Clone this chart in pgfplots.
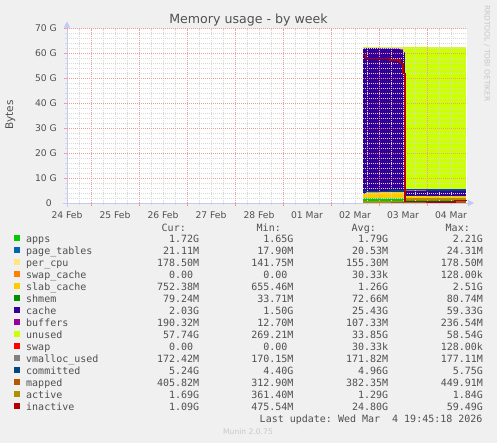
\documentclass[border=0pt]{standalone}
\usepackage{fontspec}
\setmainfont{DejaVu Sans}
\setmonofont{DejaVu Sans Mono}
\usepackage{pgfplots}
\pgfplotsset{compat=1.18}
\usepackage{pgfplotstable}
\usetikzlibrary{arrows.meta}

\definecolor{bg}{HTML}{F0F0F0}
\definecolor{txt}{HTML}{505050}
\definecolor{faint}{HTML}{C8C8C8}
\definecolor{axisblue}{HTML}{C4C8F4}
\definecolor{mgrid}{HTML}{EE9C9C}
\definecolor{grd}{HTML}{D8D8D8}
\definecolor{cApps}{HTML}{00CC00}
\definecolor{cPageTables}{HTML}{0066B3}
\definecolor{cPerCpu}{HTML}{FFE680}
\definecolor{cSwapCache}{HTML}{FF8000}
\definecolor{cSlab}{HTML}{FFCC00}
\definecolor{cShmem}{HTML}{008F00}
\definecolor{cCache}{HTML}{330099}
\definecolor{cBuffers}{HTML}{990099}
\definecolor{cUnused}{HTML}{CCFF00}
\definecolor{cSwap}{HTML}{FF0000}
\definecolor{cVmalloc}{HTML}{808080}
\definecolor{cCommitted}{HTML}{00487D}
\definecolor{cMapped}{HTML}{B35A00}
\definecolor{cActive}{HTML}{B38F00}
\definecolor{cInactive}{HTML}{B30000}

% t = days since 24 Feb 00:00, values in GB
\pgfplotstableread{
t    apps pagetables percpu swapcache slab shmem cache buffers unused swap vmalloc committed mapped active inactive
6.67 1.90 0.020 0.140 0 1.60 0.070 58.30 0.050 0.42  0 0.172 4.55 0.36 0.45 59.1
6.73 1.90 0.020 0.140 0 2.10 0.075 57.85 0.060 0.30  0 0.172 4.60 0.37 0.45 58.0
7.00 1.85 0.020 0.145 0 2.30 0.075 57.65 0.080 0.35  0 0.172 4.70 0.38 0.50 58.0
7.23 1.80 0.020 0.150 0 2.45 0.075 57.35 0.150 0.45  0 0.172 4.75 0.40 0.55 57.4
7.27 1.80 0.020 0.150 0 2.45 0.075 57.30 0.236 0.42  0 0.172 4.80 0.40 0.55 57.4
7.44 1.80 0.020 0.150 0 2.45 0.075 56.95 0.200 0.80  0 0.172 4.85 0.41 0.60 56.0
7.50 1.80 0.020 0.150 0 2.40 0.075 55.85 0.200 1.95  0 0.172 4.90 0.41 0.60 52.0
7.54 1.75 0.020 0.170 0 0.80 0.080 2.10  0.190 57.39 0 0.175 5.40 0.40 1.70 0.55
8.00 1.70 0.021 0.175 0 0.75 0.080 2.00  0.190 57.54 0 0.172 5.20 0.39 1.68 0.50
8.50 1.70 0.021 0.178 0 0.75 0.080 2.02  0.190 57.51 0 0.172 5.20 0.40 1.70 0.50
8.58 1.72 0.021 0.178 0 0.75 0.079 2.03  0.190 57.48 0 0.172 5.24 0.41 1.69 1.05
8.81 1.72 0.021 0.178 0 0.75 0.079 2.03  0.190 57.48 0 0.172 5.24 0.41 1.69 1.09
}\memdata

\newcommand{\lrow}[5]{\makebox[80bp][l]{#1}\makebox[93bp][r]{#2}\makebox[94.3bp][r]{#3}\makebox[94.7bp][r]{#4}\makebox[94.7bp][r]{#5}}
\newcommand{\monofont}{\ttfamily\fontsize{10bp}{12bp}\selectfont}

\begin{document}
\begin{tikzpicture}
\fill[bg] (0,0) rectangle (497bp,-443bp);
\fill[white] (67bp,-28.5bp) rectangle (467bp,-203bp);

% stacked areas + legend
\begin{axis}[
    at={(67bp,-203bp)}, anchor=south west,
    scale only axis, width=400bp, height=174.5bp,
    xmin=0.5, xmax=8.8333, ymin=0, ymax=70,
    axis lines=none,
    stack plots=y,
    legend cell align=left,
    legend style={at={(-0.1325,-0.1777)}, anchor=north west, draw=none, fill=none,
        inner sep=0pt, row sep=0pt, column sep=0pt, font={\monofont}, text=txt,
        nodes={inner sep=0pt, text height=8.5bp, text depth=3.5bp}},
    legend image code/.code={\fill (0bp,-0.3bp) rectangle (5.5bp,5.2bp); \path[fill=none, draw=none] (0bp,0bp) rectangle (12bp,1bp);},
]
\addplot[fill=cApps, draw=none, const plot, forget plot] table[x=t, y=apps] {\memdata} \closedcycle;
\addplot[fill=cPageTables, draw=none, const plot, forget plot] table[x=t, y=pagetables] {\memdata} \closedcycle;
\addplot[fill=cPerCpu, draw=none, const plot, forget plot] table[x=t, y=percpu] {\memdata} \closedcycle;
\addplot[fill=cSwapCache, draw=none, const plot, forget plot] table[x=t, y=swapcache] {\memdata} \closedcycle;
\addplot[fill=cSlab, draw=none, const plot, forget plot] table[x=t, y=slab] {\memdata} \closedcycle;
\addplot[fill=cShmem, draw=none, const plot, forget plot] table[x=t, y=shmem] {\memdata} \closedcycle;
\addplot[fill=cCache, draw=none, const plot, forget plot] table[x=t, y=cache] {\memdata} \closedcycle;
\addplot[fill=cBuffers, draw=none, const plot, forget plot] table[x=t, y=buffers] {\memdata} \closedcycle;
\addplot[fill=cUnused, draw=none, const plot, forget plot] table[x=t, y=unused] {\memdata} \closedcycle;
\addplot[fill=cSwap, draw=none, const plot, forget plot] table[x=t, y=swap] {\memdata} \closedcycle;

\addlegendimage{fill=cApps, draw=none}\addlegendentry{\lrow{apps}{1.72G}{1.65G}{1.79G}{2.21G}}
\addlegendimage{fill=cPageTables, draw=none}\addlegendentry{\lrow{page\_tables}{21.11M}{17.90M}{20.53M}{24.31M}}
\addlegendimage{fill=cPerCpu, draw=none}\addlegendentry{\lrow{per\_cpu}{178.50M}{141.75M}{155.30M}{178.50M}}
\addlegendimage{fill=cSwapCache, draw=none}\addlegendentry{\lrow{swap\_cache}{0.00\ }{0.00\ }{30.33k}{128.00k}}
\addlegendimage{fill=cSlab, draw=none}\addlegendentry{\lrow{slab\_cache}{752.38M}{655.46M}{1.26G}{2.51G}}
\addlegendimage{fill=cShmem, draw=none}\addlegendentry{\lrow{shmem}{79.24M}{33.71M}{72.66M}{80.74M}}
\addlegendimage{fill=cCache, draw=none}\addlegendentry{\lrow{cache}{2.03G}{1.50G}{25.43G}{59.33G}}
\addlegendimage{fill=cBuffers, draw=none}\addlegendentry{\lrow{buffers}{190.32M}{12.70M}{107.33M}{236.54M}}
\addlegendimage{fill=cUnused, draw=none}\addlegendentry{\lrow{unused}{57.74G}{269.21M}{33.85G}{58.54G}}
\addlegendimage{fill=cSwap, draw=none}\addlegendentry{\lrow{swap}{0.00\ }{0.00\ }{30.33k}{128.00k}}
\addlegendimage{fill=cVmalloc, draw=none}\addlegendentry{\lrow{vmalloc\_used}{172.42M}{170.15M}{171.82M}{177.11M}}
\addlegendimage{fill=cCommitted, draw=none}\addlegendentry{\lrow{committed}{5.24G}{4.40G}{4.96G}{5.75G}}
\addlegendimage{fill=cMapped, draw=none}\addlegendentry{\lrow{mapped}{405.82M}{312.90M}{382.35M}{449.91M}}
\addlegendimage{fill=cActive, draw=none}\addlegendentry{\lrow{active}{1.69G}{361.40M}{1.29G}{1.84G}}
\addlegendimage{fill=cInactive, draw=none}\addlegendentry{\lrow{inactive}{1.09G}{475.54M}{24.80G}{59.49G}}
\end{axis}

% grid, axes and lines on top
\begin{axis}[
    at={(67bp,-203bp)}, anchor=south west,
    scale only axis, width=400bp, height=174.5bp,
    xmin=0.5, xmax=8.8333, ymin=0, ymax=70,
    axis lines*=left,
    axis line style={draw=axisblue, line width=1bp},
    x axis line style={-{Triangle[length=6bp,width=6bp]}, shorten >=-7bp, shorten <=-4bp},
    y axis line style={-{Triangle[length=6bp,width=6bp]}, shorten >=-7bp, shorten <=-4bp},
    xtick={0.5,1.5,...,8.5},
    xticklabels={24 Feb,25 Feb,26 Feb,27 Feb,28 Feb,01 Mar,02 Mar,03 Mar,04 Mar},
    minor x tick num=3,
    ytick={0,10,...,70},
    yticklabels={0\hspace*{5bp},10 G,20 G,30 G,40 G,50 G,60 G,70 G},
    minor y tick num=4,
    grid=both,
    grid style={grd, dash pattern=on 1bp off 1bp, line width=0.7bp},
    extra x ticks={1,2,...,8}, extra x tick labels={},
    extra x tick style={grid=major, major grid style={mgrid, dash pattern=on 1bp off 1bp, line width=0.8bp},
        tick style={mgrid, line width=1bp}, major tick length=3bp},
    extra y ticks={10,20,...,70}, extra y tick labels={},
    extra y tick style={grid=major, major grid style={mgrid, dash pattern=on 1bp off 1bp, line width=0.8bp},
        tick style={mgrid, line width=1bp}, major tick length=3bp},
    tick align=outside, major tick length=2bp, minor tick length=2bp,
    tick style={grd, line width=0.8bp},
    tick label style={font=\fontsize{9.2bp}{11bp}\selectfont, text=txt, inner sep=0pt},
    xticklabel style={anchor=base, yshift=-13bp},
    yticklabel style={anchor=east, xshift=-8bp},
]
\addplot[cVmalloc, line width=1.5bp, const plot] table[x=t, y=vmalloc] {\memdata};
\addplot[cCommitted, line width=1.5bp, const plot] table[x=t, y=committed] {\memdata};
\addplot[cMapped, line width=1.5bp, const plot] table[x=t, y=mapped] {\memdata};
\addplot[cActive, line width=1.5bp, const plot] table[x=t, y=active] {\memdata};
\addplot[cInactive, line width=1.5bp, const plot] table[x=t, y=inactive] {\memdata};
\end{axis}

\node[anchor=base, font=\fontsize{12.6bp}{15bp}\selectfont, text=txt] at (248.5bp,-23.7bp) {Memory usage - by week};
\node[rotate=90, font=\fontsize{10.5bp}{12bp}\selectfont, text=txt] at (10.5bp,-115bp) {Bytes};
\node[rotate=-90, font=\fontsize{7.5bp}{9bp}\selectfont, text=faint] at (487bp,-53.5bp) {RRDTOOL / TOBI OETIKER};

\node[anchor=base east, font=\monofont, text=txt, inner sep=0pt] at (186bp,-231bp) {Cur:};
\node[anchor=base east, font=\monofont, text=txt, inner sep=0pt] at (281bp,-231bp) {Min:};
\node[anchor=base east, font=\monofont, text=txt, inner sep=0pt] at (376bp,-231bp) {Avg:};
\node[anchor=base east, font=\monofont, text=txt, inner sep=0pt] at (470bp,-231bp) {Max:};
\node[anchor=base east, font=\monofont, text=txt, inner sep=0pt] at (482.7bp,-422.3bp) {Last update: Wed Mar\ \ 4 19:45:18 2026};
\node[anchor=base, font=\fontsize{7.6bp}{9bp}\selectfont, text=faint, inner sep=0pt] at (248bp,-434.3bp) {Munin 2.0.75};

\pgfresetboundingbox
\useasboundingbox (0,0) rectangle (497bp,-443bp);
\end{tikzpicture}
\end{document}
